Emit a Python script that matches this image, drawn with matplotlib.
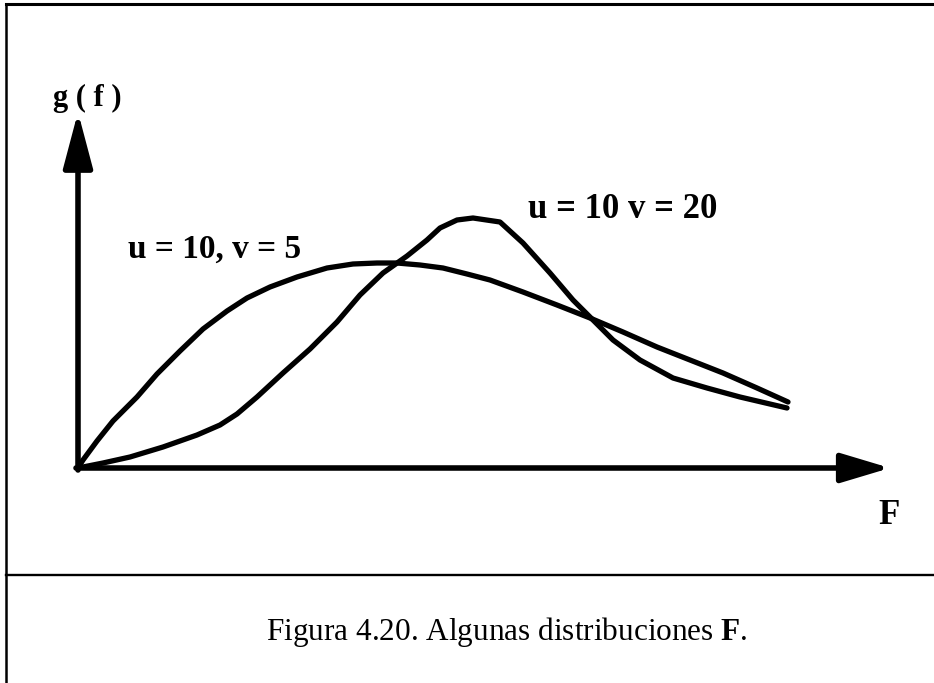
import matplotlib
matplotlib.use('Agg')
import matplotlib.pyplot as plt
from matplotlib.lines import Line2D

# Curva u = 10, v = 5
f_u10_v5 = [0.0, 0.05, 0.19, 0.35, 0.59, 0.79, 1.02, 1.25, 1.49, 1.69, 1.92, 2.19,
            2.49, 2.75, 2.99, 3.19, 3.42, 3.65, 3.89, 4.12, 4.45, 4.79, 5.12, 5.45,
            5.79, 6.12, 6.45, 6.79, 7.10]
g_u10_v5 = [0.0, 0.08, 0.27, 0.47, 0.71, 0.94, 1.17, 1.39, 1.57, 1.70, 1.81, 1.91,
            2.00, 2.04, 2.05, 2.05, 2.03, 2.00, 1.94, 1.88, 1.76, 1.63, 1.50, 1.36,
            1.21, 1.08, 0.95, 0.80, 0.66]

# Curva u = 10, v = 20
f_u10_v20 = [0.0, 0.25, 0.52, 0.85, 1.19, 1.42, 1.59, 1.79, 2.05, 2.32, 2.59, 2.82,
             3.05, 3.29, 3.49, 3.62, 3.79, 3.95, 4.22, 4.45, 4.72, 4.95, 5.15, 5.35,
             5.62, 5.95, 6.29, 6.62, 7.09]
g_u10_v20 = [0.0, 0.05, 0.11, 0.21, 0.33, 0.43, 0.54, 0.71, 0.95, 1.19, 1.46, 1.73,
             1.95, 2.12, 2.28, 2.40, 2.48, 2.50, 2.46, 2.25, 1.95, 1.68, 1.48, 1.28,
             1.08, 0.90, 0.80, 0.71, 0.60]

label_v5 = 'u = 10, v = 5'
label_v20 = 'u = 10 v = 20'
y_label = 'g ( f )'
x_label = 'F'
caption = r'Figura 4.20. Algunas distribuciones $\mathbf{F}$.'

serif = ['Liberation Serif', 'DejaVu Serif']
plt.rcParams['mathtext.fontset'] = 'custom'
plt.rcParams['mathtext.rm'] = 'Liberation Serif'
plt.rcParams['mathtext.bf'] = 'Liberation Serif:bold'

fig = plt.figure(figsize=(9.34, 6.83), dpi=100)
ax = fig.add_axes([0, 0, 1, 1])
ax.set_xlim(-0.78, 8.56)
ax.set_ylim(-2.15, 4.68)
ax.axis('off')

# Marco de la figura
fig.add_artist(Line2D([0.006, 0.006], [0.0, 0.994], transform=fig.transFigure, color='black', lw=1.8))
fig.add_artist(Line2D([0.006, 1.0], [0.994, 0.994], transform=fig.transFigure, color='black', lw=2.2))
fig.add_artist(Line2D([0.006, 1.0], [0.158, 0.158], transform=fig.transFigure, color='black', lw=1.7))

# Ejes con flechas
ax.annotate('', xy=(0, 3.56), xytext=(0, -0.02),
            arrowprops=dict(arrowstyle='-|>,head_length=3.4,head_width=0.9', lw=4.0, color='black',
                            mutation_scale=10, shrinkA=0, shrinkB=0))
ax.annotate('', xy=(8.12, 0.0), xytext=(-0.02, 0.0),
            arrowprops=dict(arrowstyle='-|>,head_length=3.0,head_width=0.9', lw=4.0, color='black',
                            mutation_scale=10, shrinkA=0, shrinkB=0))

# Curvas
ax.plot(f_u10_v5, g_u10_v5, color='black', lw=3.8, solid_capstyle='round', solid_joinstyle='round')
ax.plot(f_u10_v20, g_u10_v20, color='black', lw=3.8, solid_capstyle='round', solid_joinstyle='round')

# Textos
ax.text(0.09, 3.70, y_label, family=serif, fontweight='bold', fontsize=22, ha='center', va='center')
ax.text(0.50, 2.19, label_v5, family=serif, fontweight='bold', fontsize=24, ha='left', va='center')
ax.text(4.50, 2.59, label_v20, family=serif, fontweight='bold', fontsize=25, ha='left', va='center')
ax.text(8.11, -0.47, x_label, family=serif, fontweight='bold', fontsize=25, ha='center', va='center')
ax.text(4.29, -1.64, caption, family=serif, fontsize=22.5, ha='center', va='center')

fig.savefig('out.png', dpi=100)
